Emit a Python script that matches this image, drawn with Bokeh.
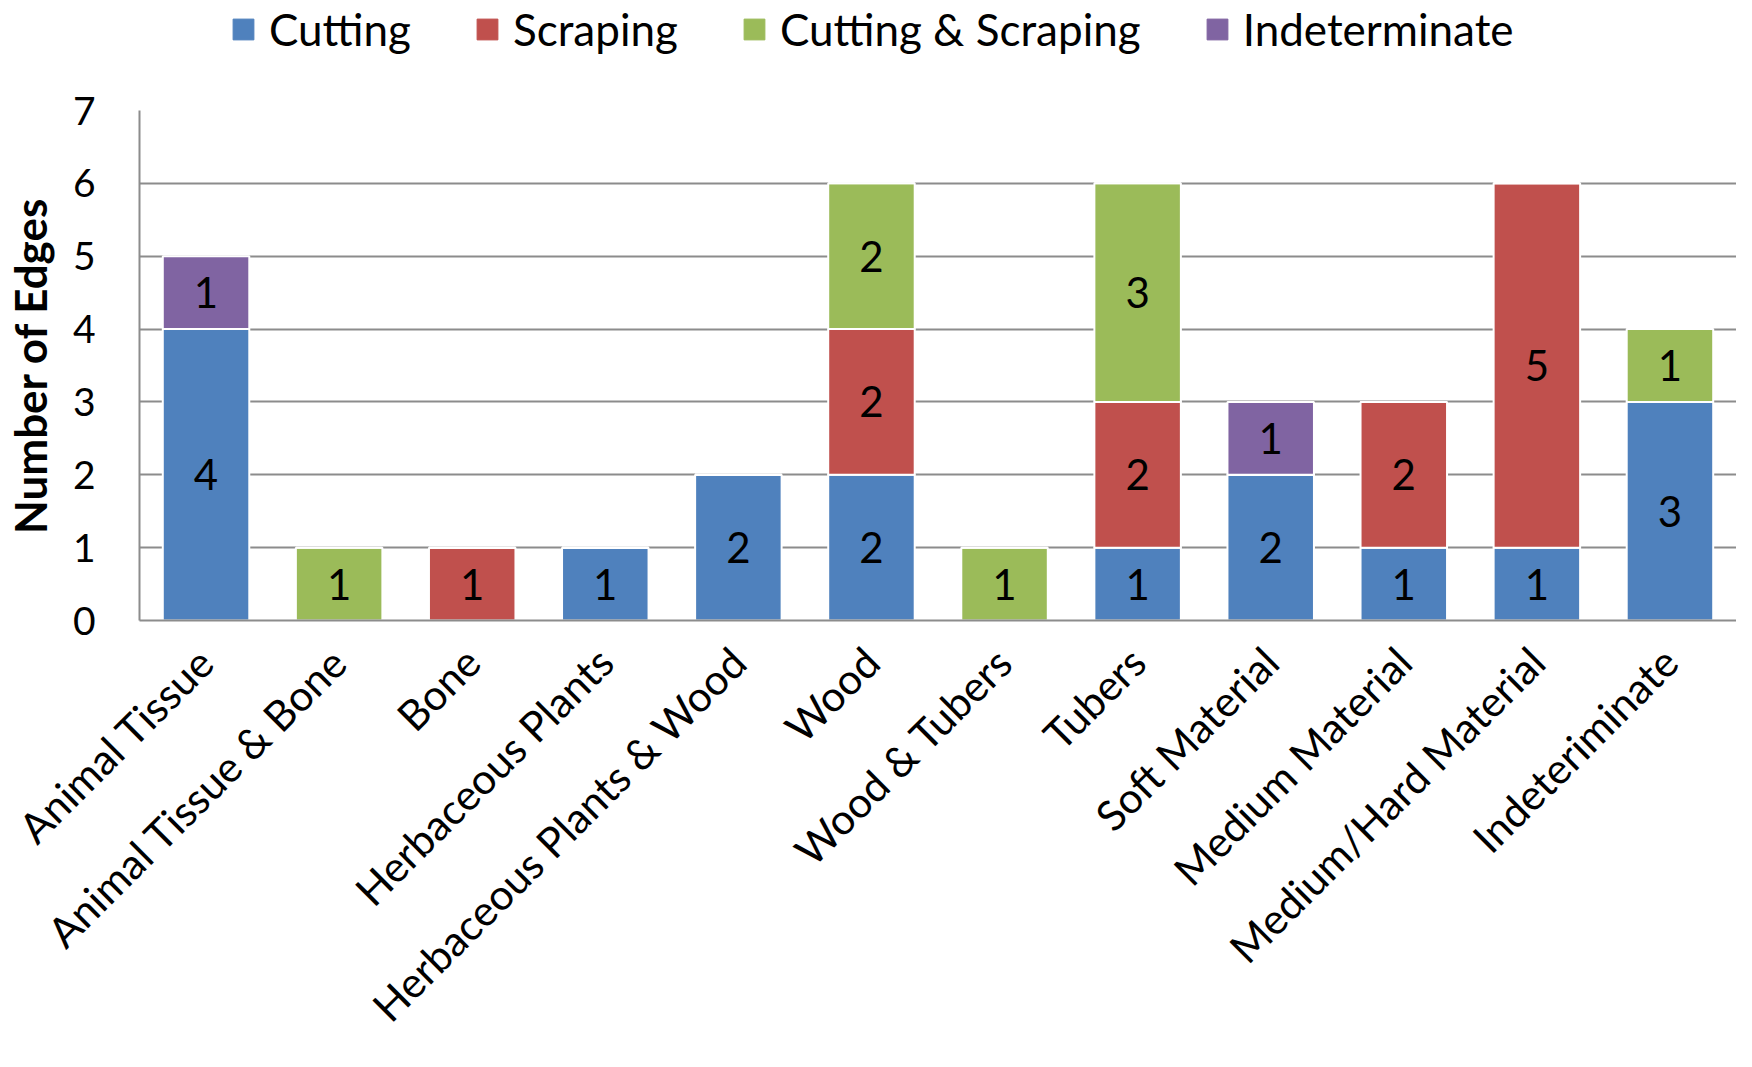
import math
from bokeh.plotting import figure
from bokeh.layouts import column
from bokeh.models import ColumnDataSource, FactorRange, Range1d, FixedTicker, Legend, LegendItem
from bokeh.core.properties import value
from bokeh.embed import file_html
from bokeh.resources import INLINE

categories = ["Animal Tissue", "Animal Tissue & Bone", "Bone", "Herbaceous Plants",
              "Herbaceous Plants & Wood", "Wood", "Wood & Tubers", "Tubers",
              "Soft Material", "Medium Material", "Medium/Hard Material", "Indeteriminate"]
series_names = ["Cutting", "Scraping", "Cutting & Scraping", "Indeterminate"]
cutting = [4, 0, 0, 1, 2, 2, 0, 1, 2, 1, 1, 3]
scraping = [0, 0, 1, 0, 0, 2, 0, 2, 0, 2, 5, 0]
cutting_scraping = [0, 1, 0, 0, 0, 2, 1, 3, 0, 0, 0, 1]
indeterminate = [1, 0, 0, 0, 0, 0, 0, 0, 1, 0, 0, 0]
y_ticks = [0, 1, 2, 3, 4, 5, 6, 7]
colors = ["#4F81BD", "#C0504D", "#9BBB59", "#8064A2"]

FONT = "Lato"
series = [cutting, scraping, cutting_scraping, indeterminate]
keys = ["s0", "s1", "s2", "s3"]

data = {"cat": categories}
for k, s in zip(keys, series):
    data[k] = s
source = ColumnDataSource(data)

LEG_H = 75
TOTAL_H = 1051

# ---------- legend strip ----------
lg = figure(width=1736, height=LEG_H, x_range=Range1d(0, 1), y_range=Range1d(0, 1),
            x_axis_type=None, y_axis_type=None, output_backend="svg", toolbar_location=None,
            min_border=0)
lg.outline_line_color = None
lg.xgrid.visible = False
lg.ygrid.visible = False
items = []
for n, c in zip(series_names, colors):
    # one off-screen bar per series, only so that the legend has a swatch to draw
    r = lg.vbar(x=[5], top=[5], bottom=[4], width=0.1, fill_color=c, line_color=c)
    items.append(LegendItem(label=n, renderers=[r]))
legend = Legend(items=items, orientation="horizontal", location=(91, 20),
                glyph_width=26, glyph_height=26, label_standoff=13, spacing=63,
                padding=0, margin=0, border_line_color=None, background_fill_alpha=0,
                label_text_font=FONT, label_text_font_size="44px", label_text_color="black")
lg.add_layout(legend, "center")

# ---------- main chart ----------
p = figure(x_range=FactorRange(*categories), y_range=Range1d(0, 7),
           width=1736, height=TOTAL_H - LEG_H, output_backend="svg", toolbar_location=None,
           min_border_left=129, min_border_right=0, min_border_top=101 - LEG_H + 9,
           min_border_bottom=380)

p.vbar_stack(keys, x="cat", width=0.65, source=source, color=colors,
             line_color="white", line_width=2)

# data labels (centered in each non-zero segment)
lx, ly, lt = [], [], []
for i, c in enumerate(categories):
    base = 0
    for s in series:
        v = s[i]
        if v:
            lx.append(c)
            ly.append(base + v / 2)
            lt.append(str(v))
        base += v
p.text(x=lx, y=ly, text=lt, text_align="center", text_baseline="middle",
       text_font=value(FONT), text_font_size="42px", text_color="black")

p.outline_line_color = None
p.xgrid.grid_line_color = None
p.ygrid.grid_line_color = "#8C8C8C"
p.ygrid.grid_line_width = 2
p.yaxis.ticker = FixedTicker(ticks=y_ticks)

p.yaxis.axis_label = "Number of Edges"
p.yaxis.axis_label_text_font = FONT
p.yaxis.axis_label_text_font_style = "bold"
p.yaxis.axis_label_text_font_size = "44px"
p.yaxis.axis_label_text_color = "black"
p.yaxis.axis_label_standoff = 14

for ax in (p.xaxis, p.yaxis):
    ax.axis_line_color = "#8C8C8C"
    ax.axis_line_width = 2
    ax.major_tick_line_color = None
    ax.minor_tick_line_color = None
    ax.major_tick_out = 0
    ax.major_tick_in = 0
    ax.minor_tick_out = 0
    ax.major_label_text_font = FONT
    ax.major_label_text_color = "black"

p.yaxis.major_label_text_font_size = "39px"
p.yaxis.major_label_standoff = 44
p.xaxis.major_label_text_font_size = "42px"
p.xaxis.major_label_orientation = math.pi / 4
p.xaxis.major_label_standoff = 34

layout = column(lg, p, spacing=0)
open("out.html", "w").write(file_html(layout, INLINE))
